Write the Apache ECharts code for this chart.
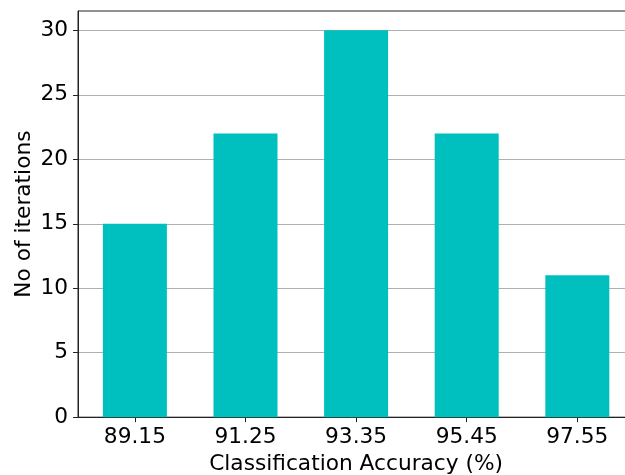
<!DOCTYPE html>
<html>
<head>
<meta charset="utf-8">
<script src="https://cdn.jsdelivr.net/npm/echarts@6/dist/echarts.min.js"></script>
<style>
  html, body { margin: 0; padding: 0; background: #fff; }
  #chart { width: 625px; height: 475px; }
</style>
</head>
<body>
<div id="chart"></div>
<script>
// Accuracy bins (bar centres) and how many iterations fell in each
const accuracyBins = [89.15, 91.25, 93.35, 95.45, 97.55];
const iterationCounts = [15, 22, 30, 22, 11];
const yTicks = [0, 5, 10, 15, 20, 25, 30];

const FONT = 'DejaVu Sans';
const FONT_SIZE = 21.7;
const binWidth = 1.2;
const xMin = accuracyBins[0] - binWidth / 2 - 0.48;
const xMax = accuracyBins[accuracyBins.length - 1] + binWidth / 2 + 0.48;

const chart = echarts.init(document.getElementById('chart'), null, { renderer: 'canvas' });

chart.setOption({
  animation: false,
  backgroundColor: '#ffffff',
  grid: {
    left: 78, top: 11, width: 556.2, height: 406.2,
    outerBoundsMode: 'none',
    containLabel: false,
    show: true, borderColor: '#222', borderWidth: 1, backgroundColor: 'transparent'
  },
  xAxis: {
    type: 'value',
    min: xMin,
    max: xMax,
    name: 'Classification Accuracy (%)',
    nameLocation: 'middle',
    nameGap: 36,
    nameMoveOverlap: false,
    nameTextStyle: { fontFamily: FONT, fontSize: FONT_SIZE, color: '#000' },
    axisLine: { show: true, lineStyle: { color: '#222', width: 1 } },
    axisTick: { show: true, length: 5, lineStyle: { color: '#222' }, customValues: accuracyBins },
    axisLabel: {
      fontFamily: FONT, fontSize: FONT_SIZE, color: '#000', margin: 9,
      customValues: accuracyBins,
      formatter: v => v.toFixed(2)
    },
    splitLine: { show: false }
  },
  yAxis: {
    type: 'value',
    min: 0,
    max: 31.5,
    interval: 5,
    name: 'No of iterations',
    nameLocation: 'middle',
    nameGap: 43,
    nameMoveOverlap: false,
    nameTextStyle: { fontFamily: FONT, fontSize: FONT_SIZE, color: '#000' },
    axisLine: { show: true, lineStyle: { color: '#222', width: 1 } },
    axisTick: { show: true, length: 5, lineStyle: { color: '#222' }, customValues: yTicks },
    axisLabel: {
      fontFamily: FONT, fontSize: FONT_SIZE, color: '#000', margin: 10,
      customValues: yTicks
    },
    splitLine: { show: true, lineStyle: { color: '#b0b0b0', width: 1 } }
  },
  series: [{
    type: 'bar',
    data: accuracyBins.map((x, i) => [x, iterationCounts[i]]),
    barWidth: 64,
    itemStyle: { color: '#00bfbf' },
    z: 3
  }]
});
</script>
</body>
</html>
